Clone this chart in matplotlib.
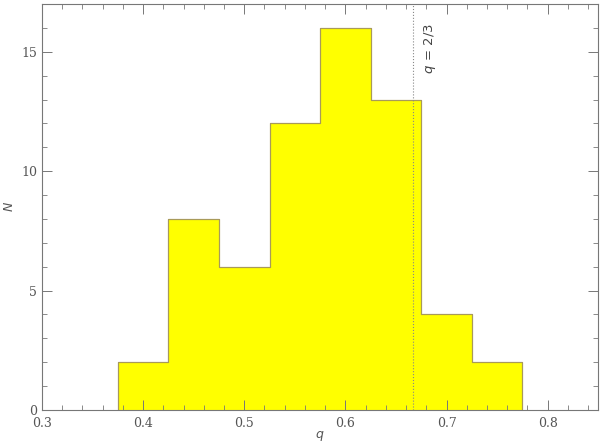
import numpy as np
import matplotlib
matplotlib.use("Agg")
import matplotlib.pyplot as plt
from matplotlib.ticker import MultipleLocator

# histogram of mass ratios q
bin_edges = [0.375, 0.425, 0.475, 0.525, 0.575, 0.625, 0.675, 0.725, 0.775]
counts = [2, 8, 6, 12, 16, 13, 4, 2]
q_ref = 2.0 / 3.0

plt.rcParams['font.family'] = ['DejaVu Serif']
txt = '#555555'

fig = plt.figure(figsize=(6, 4.43), dpi=100)
ax = fig.add_axes([0.07, 0.0745, 0.927, 0.9165])

ax.stairs(counts, bin_edges, fill=True, facecolor='#ffff00', edgecolor='#a89a5a', linewidth=0.8)
ax.stairs(counts, bin_edges, fill=False, edgecolor='#a89a5a', linewidth=0.8)

ax.axvline(q_ref, color='#888888', linestyle=':', linewidth=0.8)
ax.text(q_ref + 0.009, 16.2, r'$q\,=\,2/3$', rotation=90, ha='left', va='top',
        color='#444444', fontsize=9.5)

ax.set_xlim(0.3, 0.85)
ax.set_ylim(0, 17)
ax.xaxis.set_major_locator(MultipleLocator(0.1))
ax.xaxis.set_minor_locator(MultipleLocator(0.02))
ax.yaxis.set_major_locator(MultipleLocator(5))
ax.yaxis.set_minor_locator(MultipleLocator(1))
ax.tick_params(which='both', direction='in', top=True, right=True, colors='#777777',
               labelcolor=txt, labelsize=9)
ax.tick_params(which='major', length=7, width=0.7)
ax.tick_params(which='minor', length=3.5, width=0.6)
ax.tick_params(axis='x', which='major', pad=5)

for s in ax.spines.values():
    s.set_color('#777777')
    s.set_linewidth(0.8)

ax.set_xlabel('$q$', color=txt, fontsize=9, labelpad=-1)
ax.set_ylabel('$N$', color=txt, fontsize=9, labelpad=4)

fig.savefig('out.png', dpi=100)
